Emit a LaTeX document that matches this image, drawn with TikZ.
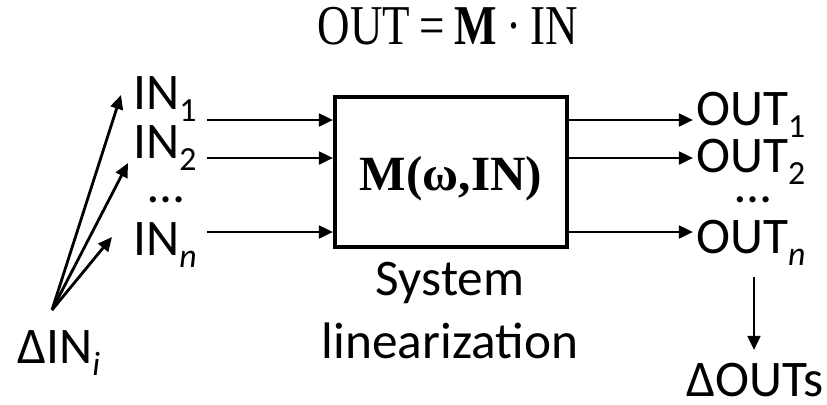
\documentclass[tikz,border=0pt]{standalone}
\usepackage{fontspec}
\setmainfont{Carlito}
\newfontfamily\eqfont[FakeStretch=0.8]{Liberation Serif}
\newfontfamily\boxfont{Liberation Serif}
\usetikzlibrary{arrows.meta,positioning,calc}
\newcommand\lsub[1]{\raisebox{-0.25em}{\fontsize{24}{24}\selectfont #1}}
\tikzset{
  lbl/.style={inner sep=0pt, anchor=base west, font=\fontsize{36.5}{44}\selectfont},
  mid/.style={lbl, anchor=base},
  arr/.style={line width=2pt, -{Triangle[length=10pt,width=9pt]}}
}

\begin{document}
\begin{tikzpicture}[x=0.025cm, y=-0.025cm]
\useasboundingbox (0,0) rectangle (827,404);
\node[mid, font=\fontsize{40}{44}\selectfont\eqfont] (eq) at (448,44) {OUT\,=\,\textbf{M}\,·\,IN};

\node[draw, line width=2.8pt, minimum width=5.8cm, minimum height=3.75cm] (sys) at (451,172) {};
\node[mid, font=\fontsize{35}{40}\selectfont\boxfont\bfseries] (mtx) at (451,190) {M(ω,IN)};
\node[mid, align=center, font=\fontsize{36.5}{44.8}\selectfont] (lin) at (450,358) {System\\linearization};

\node[lbl] (in1) at (133,109) {IN\lsub{1}};
\node[lbl] (in2) at (133,158) {IN\lsub{2}};
\node[mid] (indots) at (166,202) {…};
\node[lbl] (inn) at (133,255) {IN\lsub{\textit{n}}};

\node[lbl] (out1) at (696,125) {OUT\lsub{1}};
\node[lbl] (out2) at (696,172) {OUT\lsub{2}};
\node[mid] (outdots) at (753,202) {…};
\node[lbl] (outn) at (696,253) {OUT\lsub{\textit{n}}};

\node[lbl] (din) at (17,363) {ΔIN\lsub{\textit{i}}};
\node[lbl] (dout) at (686,396) {ΔOUTs};

\coordinate (a1) at (207,120);
\coordinate (a2) at (207,158);
\coordinate (an) at (207,232);
\coordinate (b1) at (693,120);
\coordinate (b2) at (693,158);
\coordinate (bn) at (693,232);
\coordinate (fo) at (52,310);
\coordinate (f1) at (121,95);
\coordinate (f2) at (128,163);
\coordinate (fn) at (112,237);
\coordinate (d1) at (754,277);
\coordinate (d2) at (754,350);

\draw[arr] (a1) -- (a1 -| sys.west);
\draw[arr] (a2) -- (a2 -| sys.west);
\draw[arr] (an) -- (an -| sys.west);
\draw[arr] (b1 -| sys.east) -- (b1);
\draw[arr] (b2 -| sys.east) -- (b2);
\draw[arr] (bn -| sys.east) -- (bn);
\draw[arr] (fo) -- (f1);
\draw[arr] (fo) -- (f2);
\draw[arr] (fo) -- (fn);
\draw[arr] (d1) -- (d2);
\end{tikzpicture}
\end{document}
